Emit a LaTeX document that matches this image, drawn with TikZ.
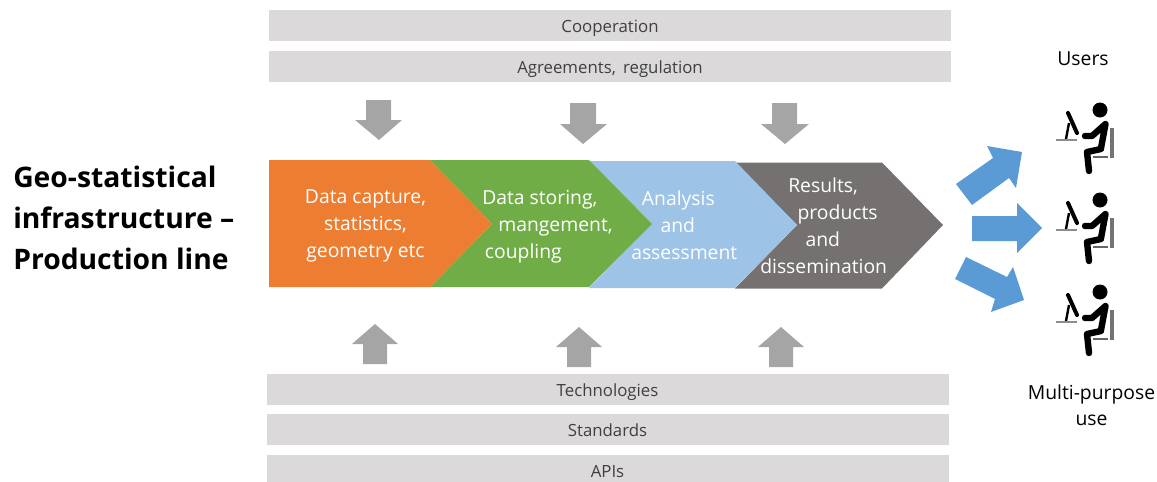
\documentclass[tikz,border=0pt]{standalone}
\usepackage{fontspec}
\setmainfont{Open Sans}
\usetikzlibrary{calc}
\definecolor{cOrange}{HTML}{ED7D31}
\definecolor{cGreen}{HTML}{70AD47}
\definecolor{cLight}{HTML}{9DC3E6}
\definecolor{cDark}{HTML}{767171}
\definecolor{cBar}{HTML}{DBD9DA}
\definecolor{cArrow}{HTML}{A5A5A5}
\definecolor{cBlue}{HTML}{5B9BD5}
\definecolor{cText}{HTML}{404040}
\tikzset{
  x=0.75pt,y=-0.75pt,
  barbox/.style={fill=cBar,draw=none,inner sep=0,minimum width=682*0.75pt,minimum height=31*0.75pt,text=cText,text height=11.2pt,text depth=0pt,font=\fontsize{12.6}{14}\selectfont},
  steptext/.style={inner sep=0,text=white,font=\fontsize{14.5}{20.25}\selectfont},
  plain/.style={inner sep=0,text=black,font=\fontsize{14.5}{19.5}\selectfont,align=center},
  titletext/.style={inner sep=0,text=black,font=\fontsize{21.2}{30.6}\selectfont\bfseries,align=left,anchor=west},
  greyarrow/.style={fill=cArrow,draw=none},
  bluearrow/.style={fill=cBlue,draw=none},
  limb/.style={draw=black,line width=4.8pt,line cap=round,line join=round},
  pics/worker/.style={code={
    \fill[black] (0,0) circle (7.5);
    \draw[limb] (5.5,14) -- (1,38) (5.5,14) -- (-8,26) -- (-15,26);
    \draw[limb] (1,39) -- (-13,42) -- (-11,61);
    \draw[draw=black!60,line width=2pt] (-7,47) -- (8,47);
    \fill[black!55] (10,18) rectangle (13.5,48);
    \draw[black,line width=3pt,line cap=round] (-32,3) -- (-23,23);
    \draw[black,line width=1.8pt] (-31,13) -- (-34,29);
    \draw[black!45,line width=2.2pt] (-44,30) -- (-23,30);
  }}
}
\begin{document}
\begin{tikzpicture}
\clip (0,0) rectangle (1157,482);
% bars
\node[barbox] (coop) at (610,25.5) {Cooperation};
\node[barbox] (agree) at (610,66.5) {Agreements,\, regulation};
\node[barbox] (tech) at (607.5,389.5) {Technologies};
\node[barbox] (std) at (607.5,429.5) {Standards};
\node[barbox] (api) at (607.5,470.5) {APIs};
% down arrows
\fill[greyarrow] (366,100)--(391,100)--(391,120)--(402,120)--(379,140)--(355,120)--(366,120)--cycle;
\fill[greyarrow] (570,103)--(596,103)--(596,124)--(607,124)--(583,144)--(560,124)--(570,124)--cycle;
\fill[greyarrow] (772,103)--(797,103)--(797,124)--(809,124)--(785,144)--(761,124)--(772,124)--cycle;
% up arrows
\fill[greyarrow] (363,364)--(387,364)--(387,344)--(398,344)--(375,324)--(352,344)--(363,344)--cycle;
\fill[greyarrow] (567,367)--(591,367)--(591,347)--(602,347)--(579,327)--(556,347)--(567,347)--cycle;
\fill[greyarrow] (769,367)--(793,367)--(793,347)--(804,347)--(781,327)--(758,347)--(769,347)--cycle;
% chevrons (back to front)
\fill[cDark] (735,162.5)--(882,162.5)--(943,225)--(882,288.5)--(735,288.5)--(797,225)--cycle;
\fill[cLight] (589,161)--(735,161)--(797,225)--(735,288)--(589,288)--(652,224)--cycle;
\fill[cGreen] (430,160)--(589,160)--(652,224)--(589,287)--(430,287)--(492,224)--cycle;
\fill[cOrange] (269,160)--(430,160)--(492,224)--(430,287)--(269,287)--cycle;
% chevron texts
\node[steptext,align=center] (s1) at (365.5,226) {Data capture,\\statistics,\\geometry etc};
\node[steptext,align=left,anchor=west] (s2) at (482,226.5) {Data storing,\\\hspace*{12pt}mangement,\\\hspace*{2pt}coupling};
\node[steptext,align=left,anchor=west] (s3) at (631,225.5) {\hspace*{8pt}Analysis\\\hspace*{22pt}and\\assessment};
\node[steptext,align=left,anchor=west] (s4) at (760,226) {\hspace*{21pt}Results,\\\hspace*{28pt}products\\\hspace*{34pt}and\\dissemination};
% title
\node[titletext] (title) at (13,218) {Geo-statistical\\infrastructure --\\Production line};
% blue arrows
\fill[bluearrow] (956,184)--(993,158)--(987,146)--(1022,152)--(1016,188)--(1009,178)--(972,205)--cycle;
\fill[bluearrow] (972,216)--(1017,216)--(1017,203)--(1042,228)--(1017,253)--(1017,241)--(972,241)--cycle;
\fill[bluearrow] (966,257)--(1007,277)--(1013,267)--(1024,300)--(991,312)--(995,299)--(955,279)--cycle;
% people
\pic at (1100,110) {worker};
\pic at (1100,200) {worker};
\pic at (1100,292) {worker};
% labels
\node[plain] (users) at (1083,59) {Users};
\node[plain] (multi) at (1091.5,405) {Multi-purpose\\use};
\end{tikzpicture}
\end{document}
